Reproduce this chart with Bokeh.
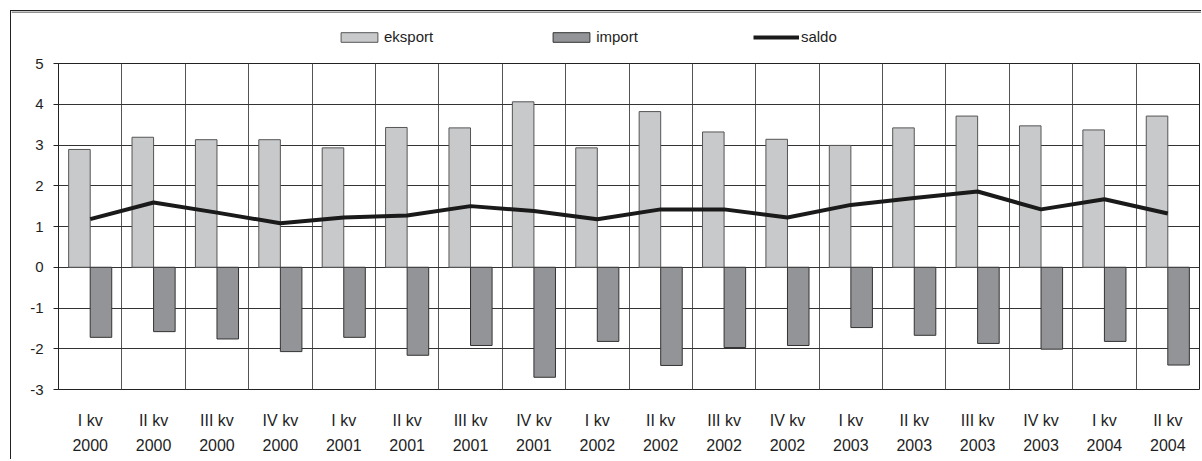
import numpy as np
from bokeh.plotting import figure
from bokeh.models import Range1d, FixedTicker, Legend, LegendItem, ColumnDataSource, Span
from bokeh.transform import dodge
from bokeh.embed import file_html
from bokeh.resources import INLINE

quarters = ["I kv", "II kv", "III kv", "IV kv", "I kv", "II kv", "III kv", "IV kv",
            "I kv", "II kv", "III kv", "IV kv", "I kv", "II kv", "III kv", "IV kv",
            "I kv", "II kv"]
years = ["2000", "2000", "2000", "2000", "2001", "2001", "2001", "2001",
         "2002", "2002", "2002", "2002", "2003", "2003", "2003", "2003",
         "2004", "2004"]
eksport = [2.89, 3.19, 3.13, 3.13, 2.93, 3.43, 3.42, 4.06, 2.93, 3.82, 3.32, 3.14,
           2.99, 3.42, 3.71, 3.47, 3.37, 3.71]
import_ = [-1.72, -1.58, -1.76, -2.07, -1.72, -2.16, -1.92, -2.70, -1.82, -2.41, -1.97,
           -1.92, -1.48, -1.67, -1.87, -2.01, -1.82, -2.40]
saldo = [1.18, 1.59, 1.34, 1.08, 1.22, 1.27, 1.50, 1.38, 1.18, 1.42, 1.42, 1.22,
         1.53, 1.70, 1.86, 1.42, 1.67, 1.32]
series_names = ["eksport", "import", "saldo"]
y_ticks = [-3, -2, -1, 0, 1, 2, 3, 4, 5]

n = len(quarters)
idx = list(range(n))
src = ColumnDataSource(dict(x=idx, eksport=eksport, imp=import_, saldo=saldo))

FONT = "Liberation Sans"
TXT = "#1e1e1e"
E_FILL, E_LINE = "#c8c9cb", "#555555"
I_FILL, I_LINE = "#939497", "#333333"
S_LINE = "#1a1a1a"

# ---------------- legend strip ----------------
LG_H = 45
lg = figure(width=1191, height=LG_H, output_backend="svg", toolbar_location=None,
            x_range=Range1d(0, 1), y_range=Range1d(0, 1), min_border=0,
            x_axis_type=None, y_axis_type=None, margin=(10, 0, 0, 10))
lg.styles = {"border-left": "1px solid #222", "border-top": "1px solid #222"}
lg.outline_line_color = None
lg.grid.visible = False
# top edge of the chart-area border, drawn on the canvas as well
lg.add_layout(Span(location=1 - 0.5 / LG_H, dimension="width", line_color="#222", line_width=1))
# proxy glyphs far outside the visible range, used only for the legend swatches
proxy = ColumnDataSource(dict(x=[-50, -51], y=[-50, -51]))
le = lg.vbar(x="x", top="y", width=0.1, source=proxy, fill_color=E_FILL, line_color=E_LINE)
li = lg.vbar(x="x", top="y", width=0.1, source=proxy, fill_color=I_FILL, line_color=I_LINE)
ls = lg.line(x="x", y="y", source=proxy, line_color=S_LINE, line_width=4)
legend = Legend(items=[LegendItem(label=series_names[0], renderers=[le]),
                       LegendItem(label=series_names[1], renderers=[li]),
                       LegendItem(label=series_names[2], renderers=[ls])],
                orientation="horizontal", location=(325, 11),
                glyph_width=46, glyph_height=12, label_standoff=2, spacing=115,
                padding=0, margin=0, border_line_color=None, background_fill_alpha=0,
                label_text_font=FONT, label_text_font_size="15px", label_text_color=TXT)
lg.add_layout(legend, "center")

# ---------------- main chart ----------------
p = figure(width=1191, height=404, output_backend="svg", toolbar_location=None,
           x_range=Range1d(-0.5, n - 0.5), y_range=Range1d(y_ticks[0], y_ticks[-1]),
           min_border_left=47, min_border_right=3, min_border_top=8, min_border_bottom=70,
           margin=(0, 0, 0, 10))
p.styles = {"border-left": "1px solid #222"}
p.outline_line_color = "#222"
p.outline_line_width = 1

p.vbar(x=dodge("x", -0.17, range=p.x_range), top="eksport", bottom=0, width=0.34,
       source=src, fill_color=E_FILL, line_color=E_LINE, line_width=1)
p.vbar(x=dodge("x", 0.17, range=p.x_range), top=0, bottom="imp", width=0.34,
       source=src, fill_color=I_FILL, line_color=I_LINE, line_width=1)
p.line(x="x", y="saldo", source=src, line_color=S_LINE, line_width=4)

p.yaxis.ticker = FixedTicker(ticks=y_ticks)
p.yaxis.major_label_overrides = {t: str(t) for t in y_ticks}
p.yaxis.axis_line_color = "#222"
p.yaxis.major_tick_line_color = "#222"
p.yaxis.major_tick_out = 5
p.yaxis.major_tick_in = 0
p.yaxis.minor_tick_line_color = None
p.yaxis.major_label_standoff = 10
p.yaxis.major_label_text_font = FONT
p.yaxis.major_label_text_font_size = "15px"
p.yaxis.major_label_text_color = TXT

p.xaxis.ticker = FixedTicker(ticks=idx)
p.xaxis.major_label_overrides = {i: f"{q}\n{y}" for i, (q, y) in enumerate(zip(quarters, years))}
p.xaxis.axis_line_color = None
p.xaxis.major_tick_line_color = None
p.xaxis.minor_tick_line_color = None
p.xaxis.major_label_standoff = 16
p.xaxis.major_label_text_font = FONT
p.xaxis.major_label_text_font_size = "16px"
p.xaxis.major_label_text_line_height = 1.5
p.xaxis.major_label_text_color = TXT

p.ygrid.ticker = FixedTicker(ticks=y_ticks)
p.ygrid.grid_line_color = "#333"
p.ygrid.grid_line_width = 1
p.xgrid.ticker = FixedTicker(ticks=[i - 0.5 for i in range(n + 1)])
p.xgrid.grid_line_color = "#555"
p.xgrid.grid_line_width = 1

open("out.html", "w").write(file_html([lg, p], INLINE))
